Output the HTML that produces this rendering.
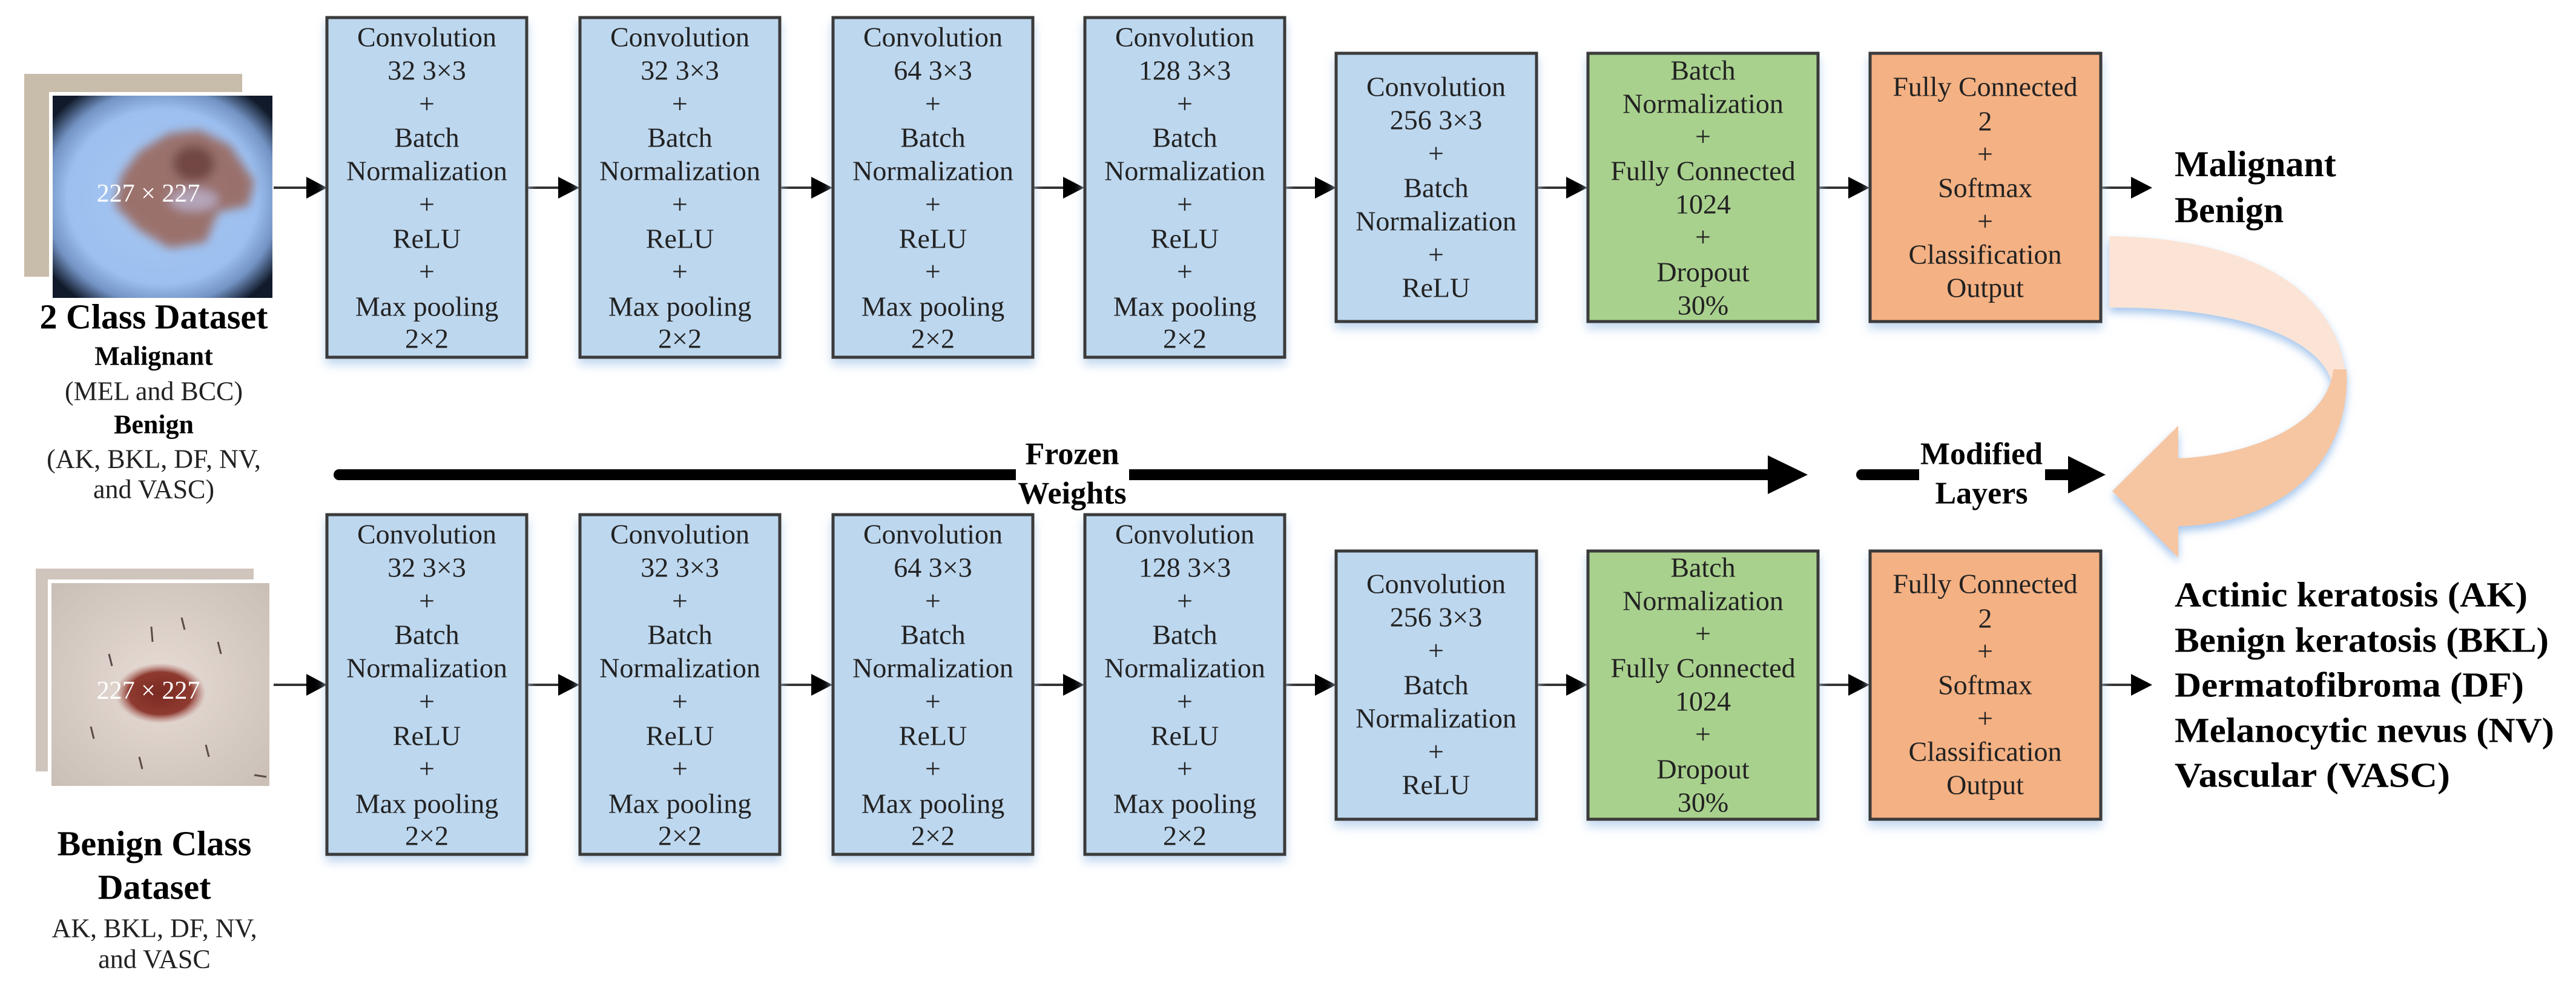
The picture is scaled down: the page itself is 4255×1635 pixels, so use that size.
<!DOCTYPE html>
<html><head><meta charset="utf-8"><style>
html,body{margin:0;padding:0;background:#fff}
svg{display:block;font-family:"Liberation Serif","Times New Roman","DejaVu Serif",serif}
svg text{font-family:"Liberation Serif","Times New Roman","DejaVu Serif",serif !important}
.bt{font-size:46px;fill:#222;text-anchor:middle;dominant-baseline:central}
.b{font-weight:bold;fill:#000;dominant-baseline:central}
</style></head><body>
<svg width="4255" height="1635" viewBox="0 0 4255 1635" xmlns="http://www.w3.org/2000/svg" font-family="Liberation Serif, serif">
<defs>
<filter id="sh" x="-10%" y="-10%" width="120%" height="125%"><feDropShadow dx="0" dy="10" stdDeviation="8" flood-color="#bcd3ee" flood-opacity="0.9"/></filter>
<filter id="gl" x="-20%" y="-20%" width="140%" height="140%"><feDropShadow dx="0" dy="8" stdDeviation="7" flood-color="#9cc0ea" flood-opacity="0.9"/></filter>
<filter id="blur"><feGaussianBlur stdDeviation="8"/></filter>
<radialGradient id="blueimg" cx="50%" cy="50%" r="72%"><stop offset="0" stop-color="#a9c8f2"/><stop offset="0.6" stop-color="#9bbff0"/><stop offset="0.74" stop-color="#7393c4"/><stop offset="0.88" stop-color="#111a2a"/></radialGradient>
<radialGradient id="skin" cx="50%" cy="50%" r="70%"><stop offset="0" stop-color="#e8dcd6"/><stop offset="1" stop-color="#c9bfb6"/></radialGradient>
<radialGradient id="spot" cx="50%" cy="50%" r="50%"><stop offset="0" stop-color="#7a2a22"/><stop offset="0.7" stop-color="#8e3a30"/><stop offset="1" stop-color="#b07068" stop-opacity="0"/></radialGradient>
</defs>

<!-- top images -->
<rect x="40" y="122" width="360" height="335" fill="#c8bcaa"/>
<rect x="81" y="152" width="375" height="346" fill="#fff"/>
<rect x="87" y="158" width="363" height="334" fill="url(#blueimg)"/>
<g filter="url(#blur)" opacity="0.85">
<path d="M230,250 L280,220 L330,215 L380,240 L420,300 L410,340 L360,350 L340,400 L280,410 L230,380 L190,340 L200,290 Z" fill="#9a6454"/>
<ellipse cx="320" cy="270" rx="35" ry="30" fill="#6a3028"/>
<ellipse cx="320" cy="330" rx="40" ry="18" fill="#b8a0b0"/>
</g>
<text x="245" y="320" font-size="42" fill="#fff" text-anchor="middle" dominant-baseline="central">227 × 227</text>

<!-- left top labels -->
<text class="b" x="254" y="523" font-size="58" text-anchor="middle">2 Class Dataset</text>
<text class="b" x="254" y="588" font-size="44" text-anchor="middle">Malignant</text>
<text x="254" y="646" font-size="44" text-anchor="middle" dominant-baseline="central" fill="#222">(MEL and BCC)</text>
<text class="b" x="254" y="701" font-size="44" text-anchor="middle">Benign</text>
<text x="254" y="758" font-size="44" text-anchor="middle" dominant-baseline="central" fill="#222">(AK, BKL, DF, NV,</text>
<text x="254" y="808" font-size="44" text-anchor="middle" dominant-baseline="central" fill="#222">and VASC)</text>

<!-- bottom images -->
<rect x="59" y="939" width="360" height="335" fill="#cfc5bc"/>
<rect x="79" y="957" width="372" height="347" fill="#fff"/>
<rect x="85" y="963" width="360" height="335" fill="url(#skin)"/>
<ellipse cx="265" cy="1145" rx="75" ry="50" fill="url(#spot)"/>
<g stroke="#5a4a48" stroke-width="3">
<line x1="250" y1="1035" x2="252" y2="1060"/><line x1="300" y1="1020" x2="305" y2="1040"/><line x1="180" y1="1080" x2="185" y2="1100"/><line x1="360" y1="1060" x2="365" y2="1080"/><line x1="150" y1="1200" x2="155" y2="1220"/><line x1="340" y1="1230" x2="345" y2="1250"/><line x1="420" y1="1280" x2="440" y2="1283"/><line x1="230" y1="1250" x2="235" y2="1270"/>
</g>
<text x="245" y="1141" font-size="42" fill="#fff" text-anchor="middle" dominant-baseline="central">227 × 227</text>

<text class="b" x="255" y="1393" font-size="58" text-anchor="middle">Benign Class</text>
<text class="b" x="255" y="1465" font-size="58" text-anchor="middle">Dataset</text>
<text x="255" y="1533" font-size="44" text-anchor="middle" dominant-baseline="central" fill="#222">AK, BKL, DF, NV,</text>
<text x="255" y="1584" font-size="44" text-anchor="middle" dominant-baseline="central" fill="#222">and VASC</text>

<!-- connectors -->
<g stroke="#333" stroke-width="4">
<line x1="452" y1="310" x2="510" y2="310"/><line x1="870" y1="310" x2="925" y2="310"/><line x1="1288" y1="310" x2="1343" y2="310"/><line x1="1706" y1="310" x2="1760" y2="310"/><line x1="2124" y1="310" x2="2175" y2="310"/><line x1="2538" y1="310" x2="2590" y2="310"/><line x1="3003" y1="310" x2="3055" y2="310"/><line x1="3470" y1="310" x2="3522" y2="310"/>
<line x1="452" y1="1131" x2="510" y2="1131"/><line x1="870" y1="1131" x2="925" y2="1131"/><line x1="1288" y1="1131" x2="1343" y2="1131"/><line x1="1706" y1="1131" x2="1760" y2="1131"/><line x1="2124" y1="1131" x2="2175" y2="1131"/><line x1="2538" y1="1131" x2="2590" y2="1131"/><line x1="3003" y1="1131" x2="3055" y2="1131"/><line x1="3470" y1="1131" x2="3522" y2="1131"/>
</g>
<g fill="#000">
<polygon points="506,292 540,310 506,328"/><polygon points="922,292 957,310 922,328"/><polygon points="1340,292 1375,310 1340,328"/><polygon points="1756,292 1791,310 1756,328"/><polygon points="2172,292 2207,310 2172,328"/><polygon points="2587,292 2622,310 2587,328"/><polygon points="3053,292 3088,310 3053,328"/><polygon points="3520,292 3555,310 3520,328"/>
<polygon points="506,1113 540,1131 506,1149"/><polygon points="922,1113 957,1131 922,1149"/><polygon points="1340,1113 1375,1131 1340,1149"/><polygon points="1756,1113 1791,1131 1756,1149"/><polygon points="2172,1113 2207,1131 2172,1149"/><polygon points="2587,1113 2622,1131 2587,1149"/><polygon points="3053,1113 3088,1131 3053,1149"/><polygon points="3520,1113 3555,1131 3520,1149"/>
</g>

<!-- boxes -->
<g stroke="#3a3a3a" stroke-width="5" filter="url(#sh)">
<rect x="540" y="29" width="330" height="561" fill="#bdd7ee"/>
<rect x="958" y="29" width="330" height="561" fill="#bdd7ee"/>
<rect x="1376" y="29" width="330" height="561" fill="#bdd7ee"/>
<rect x="1792" y="29" width="330" height="561" fill="#bdd7ee"/>
<rect x="2207" y="88" width="331" height="443" fill="#bdd7ee"/>
<rect x="2623" y="88" width="380" height="443" fill="#a9d18e"/>
<rect x="3089" y="88" width="381" height="443" fill="#f4b183"/>
<rect x="540" y="850" width="330" height="561" fill="#bdd7ee"/>
<rect x="958" y="850" width="330" height="561" fill="#bdd7ee"/>
<rect x="1376" y="850" width="330" height="561" fill="#bdd7ee"/>
<rect x="1792" y="850" width="330" height="561" fill="#bdd7ee"/>
<rect x="2207" y="910" width="331" height="443" fill="#bdd7ee"/>
<rect x="2623" y="910" width="380" height="443" fill="#a9d18e"/>
<rect x="3089" y="910" width="381" height="443" fill="#f4b183"/>
</g>

<!-- box text top -->
<g>
<g transform="translate(705,0)"><text class="bt" y="61">Convolution</text><text class="bt" y="116">32 3×3</text><text class="bt" y="171">+</text><text class="bt" y="227">Batch</text><text class="bt" y="282">Normalization</text><text class="bt" y="337">+</text><text class="bt" y="394">ReLU</text><text class="bt" y="448">+</text><text class="bt" y="506">Max pooling</text><text class="bt" y="559">2×2</text></g>
<g transform="translate(1123,0)"><text class="bt" y="61">Convolution</text><text class="bt" y="116">32 3×3</text><text class="bt" y="171">+</text><text class="bt" y="227">Batch</text><text class="bt" y="282">Normalization</text><text class="bt" y="337">+</text><text class="bt" y="394">ReLU</text><text class="bt" y="448">+</text><text class="bt" y="506">Max pooling</text><text class="bt" y="559">2×2</text></g>
<g transform="translate(1541,0)"><text class="bt" y="61">Convolution</text><text class="bt" y="116">64 3×3</text><text class="bt" y="171">+</text><text class="bt" y="227">Batch</text><text class="bt" y="282">Normalization</text><text class="bt" y="337">+</text><text class="bt" y="394">ReLU</text><text class="bt" y="448">+</text><text class="bt" y="506">Max pooling</text><text class="bt" y="559">2×2</text></g>
<g transform="translate(1957,0)"><text class="bt" y="61">Convolution</text><text class="bt" y="116">128 3×3</text><text class="bt" y="171">+</text><text class="bt" y="227">Batch</text><text class="bt" y="282">Normalization</text><text class="bt" y="337">+</text><text class="bt" y="394">ReLU</text><text class="bt" y="448">+</text><text class="bt" y="506">Max pooling</text><text class="bt" y="559">2×2</text></g>
<g transform="translate(2372,0)"><text class="bt" y="143">Convolution</text><text class="bt" y="198">256 3×3</text><text class="bt" y="253">+</text><text class="bt" y="310">Batch</text><text class="bt" y="365">Normalization</text><text class="bt" y="420">+</text><text class="bt" y="475">ReLU</text></g>
<g transform="translate(2813,0)"><text class="bt" y="116">Batch</text><text class="bt" y="171">Normalization</text><text class="bt" y="225">+</text><text class="bt" y="282">Fully Connected</text><text class="bt" y="337">1024</text><text class="bt" y="391">+</text><text class="bt" y="449">Dropout</text><text class="bt" y="504">30%</text></g>
<g transform="translate(3279,0)"><text class="bt" y="143">Fully Connected</text><text class="bt" y="200">2</text><text class="bt" y="254">+</text><text class="bt" y="310">Softmax</text><text class="bt" y="365">+</text><text class="bt" y="420">Classification</text><text class="bt" y="475">Output</text></g>
</g>
<!-- box text bottom -->
<g transform="translate(0,821)">
<g transform="translate(705,0)"><text class="bt" y="61">Convolution</text><text class="bt" y="116">32 3×3</text><text class="bt" y="171">+</text><text class="bt" y="227">Batch</text><text class="bt" y="282">Normalization</text><text class="bt" y="337">+</text><text class="bt" y="394">ReLU</text><text class="bt" y="448">+</text><text class="bt" y="506">Max pooling</text><text class="bt" y="559">2×2</text></g>
<g transform="translate(1123,0)"><text class="bt" y="61">Convolution</text><text class="bt" y="116">32 3×3</text><text class="bt" y="171">+</text><text class="bt" y="227">Batch</text><text class="bt" y="282">Normalization</text><text class="bt" y="337">+</text><text class="bt" y="394">ReLU</text><text class="bt" y="448">+</text><text class="bt" y="506">Max pooling</text><text class="bt" y="559">2×2</text></g>
<g transform="translate(1541,0)"><text class="bt" y="61">Convolution</text><text class="bt" y="116">64 3×3</text><text class="bt" y="171">+</text><text class="bt" y="227">Batch</text><text class="bt" y="282">Normalization</text><text class="bt" y="337">+</text><text class="bt" y="394">ReLU</text><text class="bt" y="448">+</text><text class="bt" y="506">Max pooling</text><text class="bt" y="559">2×2</text></g>
<g transform="translate(1957,0)"><text class="bt" y="61">Convolution</text><text class="bt" y="116">128 3×3</text><text class="bt" y="171">+</text><text class="bt" y="227">Batch</text><text class="bt" y="282">Normalization</text><text class="bt" y="337">+</text><text class="bt" y="394">ReLU</text><text class="bt" y="448">+</text><text class="bt" y="506">Max pooling</text><text class="bt" y="559">2×2</text></g>
<g transform="translate(2372,0)"><text class="bt" y="143">Convolution</text><text class="bt" y="198">256 3×3</text><text class="bt" y="253">+</text><text class="bt" y="310">Batch</text><text class="bt" y="365">Normalization</text><text class="bt" y="420">+</text><text class="bt" y="475">ReLU</text></g>
<g transform="translate(2813,0)"><text class="bt" y="116">Batch</text><text class="bt" y="171">Normalization</text><text class="bt" y="225">+</text><text class="bt" y="282">Fully Connected</text><text class="bt" y="337">1024</text><text class="bt" y="391">+</text><text class="bt" y="449">Dropout</text><text class="bt" y="504">30%</text></g>
<g transform="translate(3279,0)"><text class="bt" y="143">Fully Connected</text><text class="bt" y="200">2</text><text class="bt" y="254">+</text><text class="bt" y="310">Softmax</text><text class="bt" y="365">+</text><text class="bt" y="420">Classification</text><text class="bt" y="475">Output</text></g>
</g>

<!-- frozen weights line -->
<g stroke="#000" stroke-width="18">
<line x1="560" y1="784" x2="1678" y2="784"/>
<line x1="1865" y1="784" x2="2925" y2="784"/>
<line x1="3075" y1="784" x2="3170" y2="784"/>
</g>
<circle cx="560" cy="784" r="9" fill="#000"/>
<circle cx="3075" cy="784" r="9" fill="#000"/>
<polygon points="2920,752 2986,784 2920,816" fill="#000"/>
<line x1="3378" y1="784" x2="3425" y2="784" stroke="#000" stroke-width="18"/>
<polygon points="3416,753 3478,784 3416,815" fill="#000"/>
<text class="b" x="1771" y="750" font-size="52" text-anchor="middle">Frozen</text>
<text class="b" x="1771" y="815" font-size="52" text-anchor="middle">Weights</text>
<text class="b" x="3273" y="750" font-size="52" text-anchor="middle">Modified</text>
<text class="b" x="3273" y="815" font-size="52" text-anchor="middle">Layers</text>

<!-- outputs -->
<text class="b" x="3592" y="271" font-size="60">Malignant</text>
<text class="b" x="3592" y="347" font-size="60">Benign</text>
<text class="b" x="3592" y="982" font-size="58" textLength="583" lengthAdjust="spacingAndGlyphs">Actinic keratosis (AK)</text>
<text class="b" x="3592" y="1057" font-size="58" textLength="618" lengthAdjust="spacingAndGlyphs">Benign keratosis (BKL)</text>
<text class="b" x="3592" y="1131" font-size="58" textLength="577" lengthAdjust="spacingAndGlyphs">Dermatofibroma (DF)</text>
<text class="b" x="3592" y="1206" font-size="58" textLength="627" lengthAdjust="spacingAndGlyphs">Melanocytic nevus (NV)</text>
<text class="b" x="3592" y="1280" font-size="58" textLength="455" lengthAdjust="spacingAndGlyphs">Vascular (VASC)</text>

<!-- curved arrow -->
<g filter="url(#gl)">
<path d="M3484,390 C3700,392 3872,470 3876,640 L3854,640 C3840,560 3700,506 3484,508 Z" fill="#fbe4d5"/>
<path d="M3876,610 C3884,770 3760,866 3598,869 L3598,921 L3489,811 L3598,703 L3598,757 C3720,752 3845,700 3854,610 Z" fill="#f6c6a2"/>
</g>
</svg>
</body></html>
